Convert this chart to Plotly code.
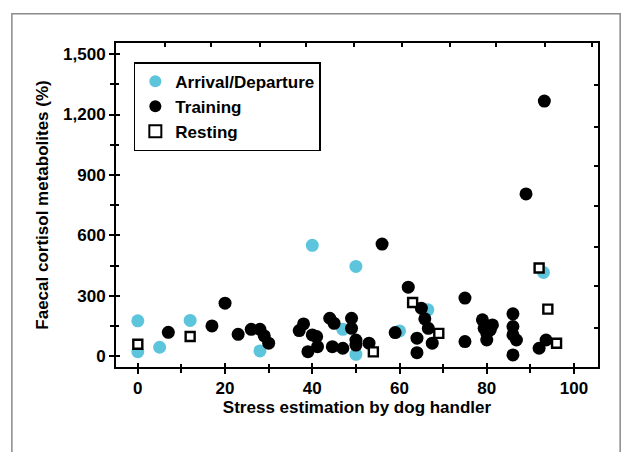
import plotly.graph_objects as go

# ---- data ----
arrival_x = [0, 0, 5, 12, 28, 40, 47, 50, 50, 60, 66.5, 93]
arrival_y = [176, 23, 45, 178, 27, 551, 134, 446, 10, 126, 231, 416]

training_x = [7, 17, 20, 23, 26, 28, 29, 30, 37, 38, 39, 40, 41, 41.2, 44, 45, 44.6, 47,
              49, 49, 50, 50, 53, 56, 59, 62, 64, 64, 65, 65.8, 66.6, 67.5, 75, 75,
              79, 79.4, 80, 80, 80.8, 81.3, 86, 86, 86, 86, 86.8, 89, 92, 93.2, 93.6]
training_y = [119, 151, 264, 109, 134, 134, 101, 65, 128, 161, 23, 106, 98, 48, 189, 164, 48, 40,
              189, 139, 81, 56, 65, 557, 118, 343, 90, 18, 239, 186, 139, 65, 289, 73,
              181, 139, 114, 81, 131, 156, 211, 148, 106, 7, 81, 806, 40, 1267, 81]

resting_x = [0, 12, 54, 63, 69, 92, 94, 96]
resting_y = [60, 98, 22, 267, 114, 438, 234, 65]

x_major = [0, 20, 40, 60, 80, 100]
y_major = [0, 300, 600, 900, 1200, 1500]
top_ticks = [6.2, 16.7, 28.0, 38.5, 49.5, 60.6, 71.6, 82.1, 93.3, 104.1]
right_ticks = [139, 348, 541, 745, 944, 1137, 1346]

XR = [-5, 105.5]
YR = [-53, 1555]
font = "Liberation Sans, Arial, sans-serif"

fig = go.Figure()
fig.add_trace(go.Scatter(x=arrival_x, y=arrival_y, mode="markers", name="Arrival/Departure",
                         marker=dict(color="#5cc5dc", size=13, line=dict(width=0))))
fig.add_trace(go.Scatter(x=training_x, y=training_y, mode="markers", name="Training",
                         marker=dict(color="black", size=13, line=dict(width=0))))
fig.add_trace(go.Scatter(x=resting_x, y=resting_y, mode="markers", name="Resting",
                         marker=dict(symbol="square", color="white", size=9,
                                     line=dict(color="black", width=2.4))))
# dummy traces for overlay axes
fig.add_trace(go.Scatter(x=[None], y=[None], xaxis="x2", yaxis="y2", showlegend=False, hoverinfo="skip"))
fig.add_trace(go.Scatter(x=[None], y=[None], xaxis="x3", yaxis="y3", showlegend=False, hoverinfo="skip"))

tickfont = dict(family=font, size=17, color="black", weight="bold")
titlefont = dict(family=font, size=17, color="black", weight="bold")
fig.update_layout(
    width=629, height=452,
    margin=dict(l=116, r=31, t=43, b=85),
    paper_bgcolor="white", plot_bgcolor="white",
    font=dict(family=font, color="black"),
    showlegend=True,
    legend=dict(x=0.037, y=0.941, xanchor="left", yanchor="top",
                bgcolor="white", bordercolor="black", borderwidth=1.5,
                font=dict(family=font, size=17, color="black", weight="bold"),
                itemsizing="constant", tracegroupgap=0),
    xaxis=dict(range=XR, tickvals=x_major, ticks="outside", ticklen=5, tickwidth=1.5,
               tickcolor="black", showline=True, linecolor="black", linewidth=2,
               showgrid=False, zeroline=False, tickfont=tickfont,
               minor=dict(dtick=10, tick0=0, ticks="outside", ticklen=4, tickwidth=1.5, tickcolor="black", showgrid=False),
               title=dict(text="Stress estimation by dog handler", standoff=2, font=titlefont)),
    yaxis=dict(range=YR, tickvals=y_major, tickformat=",d", ticks="outside", ticklen=5, tickwidth=1.5,
               tickcolor="black", showline=True, linecolor="black", linewidth=2,
               showgrid=False, zeroline=False, tickfont=tickfont,
               minor=dict(dtick=150, tick0=0, ticks="outside", ticklen=4, tickwidth=1.5, tickcolor="black", showgrid=False),
               title=dict(text="Faecal cortisol metabolites (%)", standoff=10, font=titlefont)),
    xaxis2=dict(overlaying="x", side="top", range=XR, tickvals=top_ticks, ticks="inside", ticklen=4,
                tickwidth=1.5, tickcolor="black", showline=True, linecolor="black", linewidth=2,
                showticklabels=False, showgrid=False, zeroline=False),
    yaxis2=dict(overlaying="y", side="right", range=YR, tickvals=right_ticks, ticks="inside", ticklen=4,
                tickwidth=1.5, tickcolor="black", showline=True, linecolor="black", linewidth=2,
                showticklabels=False, showgrid=False, zeroline=False),
    xaxis3=dict(overlaying="x", side="bottom", range=XR, tickvals=x_major, ticks="inside", ticklen=4,
                tickwidth=1.5, tickcolor="black", showticklabels=False, showgrid=False, zeroline=False,
                minor=dict(dtick=10, tick0=0, ticks="inside", ticklen=3, tickwidth=1.5, tickcolor="black")),
    yaxis3=dict(overlaying="y", side="left", range=YR, tickvals=y_major, ticks="inside", ticklen=4,
                tickwidth=1.5, tickcolor="black", showticklabels=False, showgrid=False, zeroline=False,
                minor=dict(dtick=150, tick0=0, ticks="inside", ticklen=3, tickwidth=1.5, tickcolor="black")),
)

# outer gray frame of the figure panel
fig.add_shape(type="rect", xref="paper", yref="paper",
              x0=-0.216, x1=1.046, y0=-0.3, y1=1.09,
              line=dict(color="#8a8a8a", width=1.5), fillcolor="rgba(0,0,0,0)", layer="below")

fig.write_html("out.html")
